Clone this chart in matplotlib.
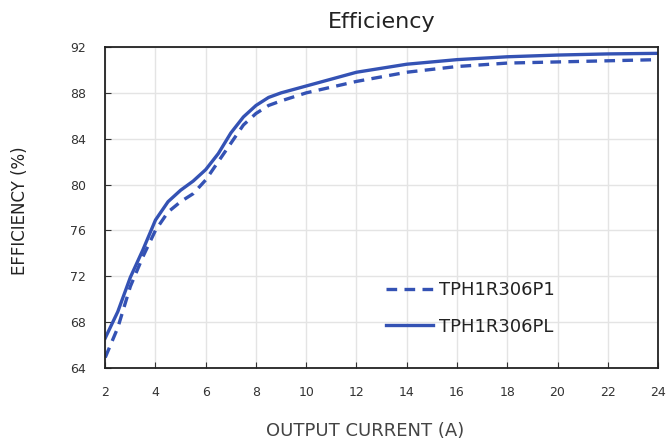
import matplotlib
matplotlib.use("Agg")
import matplotlib.pyplot as plt

current = [2, 2.5, 3, 3.5, 4, 4.5, 5, 5.5, 6, 6.5, 7, 7.5, 8, 8.5, 9, 10, 11, 12, 14, 16, 18, 20, 22, 24]
eff_p1 = [64.9, 67.5, 71.1, 73.7, 76.0, 77.6, 78.5, 79.2, 80.4, 82.0, 83.6, 85.2, 86.2, 86.9, 87.3, 88.0, 88.5, 89.0, 89.8, 90.3, 90.6, 90.7, 90.8, 90.9]
eff_pl = [66.6, 68.9, 71.9, 74.3, 76.9, 78.5, 79.5, 80.3, 81.3, 82.7, 84.5, 85.9, 86.9, 87.6, 88.0, 88.6, 89.2, 89.8, 90.5, 90.9, 91.15, 91.3, 91.4, 91.45]

xticks = list(range(2, 25, 2))
yticks = list(range(64, 93, 4))

blue = "#3452B4"
fig = plt.figure(figsize=(6.66, 4.48), dpi=100)
ax = fig.add_axes([0.158, 0.179, 0.830, 0.716])

ax.plot(current, eff_p1, color=blue, lw=2.4, ls=(0, (3.2, 2.2)), label="TPH1R306P1")
ax.plot(current, eff_pl, color=blue, lw=2.4, label="TPH1R306PL")

ax.set_xlim(2, 24)
ax.set_ylim(64, 92)
ax.set_xticks(xticks)
ax.set_yticks(yticks)
ax.grid(True, color="#e4e4e4", lw=1)
ax.tick_params(direction="in", length=4, labelsize=9, colors="#333333")
ax.tick_params(axis="x", pad=13)
ax.tick_params(axis="y", pad=14)
for s in ax.spines.values():
    s.set_color("#222222")
    s.set_linewidth(1.3)

ax.set_title("Efficiency", fontsize=16, color="#222222", pad=14)
ax.set_xlabel("OUTPUT CURRENT (A)", fontsize=13, color="#444444")
ax.set_ylabel("EFFICIENCY (%)", fontsize=12, color="#222222")
ax.xaxis.set_label_coords(0.47, -0.17)
ax.yaxis.set_label_coords(-0.137, 0.49)

leg = ax.legend(loc="lower right", bbox_to_anchor=(0.842, 0.05), frameon=False,
                fontsize=13, handlelength=2.6, handletextpad=0.3, labelspacing=1.0)
for t in leg.get_texts():
    t.set_color("#222222")

fig.savefig("out.png", dpi=100)
